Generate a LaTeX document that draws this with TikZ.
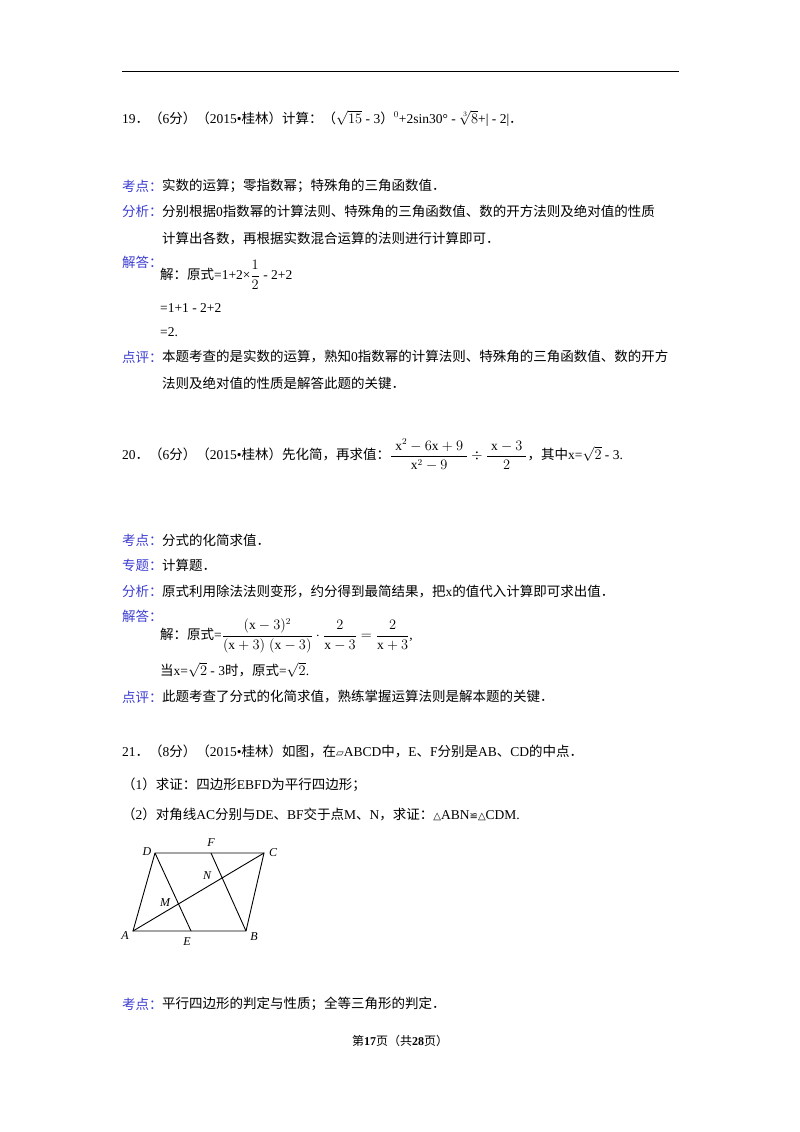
\documentclass[tikz,border=0pt]{standalone}
\usepackage{fontspec}
\usepackage{amsmath}
\setmainfont{Liberation Serif}
\newfontfamily\cjk{Noto Sans CJK SC}
\newfontfamily\dv{DejaVu Sans}
\newcommand\zh[1]{{\cjk #1}}
\newcommand\sy[1]{{\dv\fontsize{10}{12}\selectfont #1}}
\definecolor{lab}{RGB}{60,60,210}
\begin{document}
\begin{tikzpicture}[x=1pt,y=-1pt,
  t/.style={anchor=west,inner sep=0pt,font=\fontsize{13.5}{16}\selectfont},
  lb/.style={t,text=lab},
  pt/.style={inner sep=1pt,font=\itshape\fontsize{12}{14}\selectfont}]
\useasboundingbox (0,0) rectangle (800,1132);
\draw[line width=1pt] (122,72) -- (679,72);
% 19
\node[t] (q19) at (122,118) {19\zh{．（}6\zh{分）（}2015\textbullet\zh{桂林）计算：（}$\sqrt{15}$ - 3\zh{）}$^0$+2sin30° - $\sqrt[3]{8}$+| - 2|\zh{．}};
\node[lb] (k19) at (122,186) {\zh{考点：}};
\node[t] (k19t) at (162,186) {\zh{实数的运算；零指数幂；特殊角的三角函数值．}};
\node[lb] (f19) at (122,211) {\zh{分析：}};
\node[t] (f19a) at (162,211) {\zh{分别根据}0\zh{指数幂的计算法则、特殊角的三角函数值、数的开方法则及绝对值的性质}};
\node[t] (f19b) at (162,238) {\zh{计算出各数，再根据实数混合运算的法则进行计算即可．}};
\node[lb] (j19) at (122,262) {\zh{解答：}};
\node[t] (j19a) at (160,275) {\zh{解：原式}=1+2×$\dfrac{1}{2}$ - 2+2};
\node[t] (j19b) at (160,308) {=1+1 - 2+2};
\node[t] (j19c) at (160,332) {=2.};
\node[lb] (d19) at (122,357) {\zh{点评：}};
\node[t] (d19a) at (162,357) {\zh{本题考查的是实数的运算，熟知}0\zh{指数幂的计算法则、特殊角的三角函数值、数的开方}};
\node[t] (d19b) at (162,383) {\zh{法则及绝对值的性质是解答此题的关键．}};
% 20
\node[t] (q20) at (122,455) {20\zh{．（}6\zh{分）（}2015\textbullet\zh{桂林）先化简，再求值：}$\dfrac{\;\mathrm{x}^2-6\mathrm{x}+9\;}{\mathrm{x}^2-9}\div\dfrac{\;\mathrm{x}-3\;}{2}$\zh{，其中}x=$\sqrt{2}$ - 3.};
\node[lb] (k20) at (122,540) {\zh{考点：}};
\node[t] (k20t) at (162,540) {\zh{分式的化简求值．}};
\node[lb] (z20) at (122,565) {\zh{专题：}};
\node[t] (z20t) at (162,565) {\zh{计算题．}};
\node[lb] (f20) at (122,591) {\zh{分析：}};
\node[t] (f20t) at (162,591) {\zh{原式利用除法法则变形，约分得到最简结果，把}x\zh{的值代入计算即可求出值．}};
\node[lb] (j20) at (122,616) {\zh{解答：}};
\node[t] (j20a) at (160,636) {\zh{解：原式}=$\dfrac{(\mathrm{x}-3)^2}{(\mathrm{x}+3)\;(\mathrm{x}-3)}\cdot\dfrac{2}{\mathrm{x}-3}=\dfrac{2}{\mathrm{x}+3}$,};
\node[t] (j20b) at (160,670) {\zh{当}x=$\sqrt{2}$ - 3\zh{时，原式}=$\sqrt{2}$.};
\node[lb] (d20) at (122,697) {\zh{点评：}};
\node[t] (d20t) at (162,697) {\zh{此题考查了分式的化简求值，熟练掌握运算法则是解本题的关键．}};
% 21
\node[t] (q21) at (122,751) {21\zh{．（}8\zh{分）（}2015\textbullet\zh{桂林）如图，在}\sy{▱}ABCD\zh{中，}E\zh{、}F\zh{分别是}AB\zh{、}CD\zh{的中点．}};
\node[t] (q21a) at (122,785) {\zh{（}1\zh{）求证：四边形}EBFD\zh{为平行四边形；}};
\node[t] (q21b) at (122,814) {\zh{（}2\zh{）对角线}AC\zh{分别与}DE\zh{、}BF\zh{交于点}M\zh{、}N\zh{，求证：}\sy{△}ABN\sy{≌}\sy{△}CDM.};
% figure
\coordinate (A) at (133,931);
\coordinate (B) at (246,931);
\coordinate (C) at (264,853);
\coordinate (D) at (155,853);
\coordinate (E) at (191,931);
\coordinate (F) at (211,853);
\draw[line width=0.9pt] (A) -- (B) -- (C) -- (D) -- cycle;
\draw[line width=0.9pt] (D) -- (E) (F) -- (B) (A) -- (C);
\node[pt] (lA) at (125,936) {A};
\node[pt] (lB) at (254,937) {B};
\node[pt] (lC) at (273,853) {C};
\node[pt] (lD) at (147,852) {D};
\node[pt] (lE) at (187,942) {E};
\node[pt] (lF) at (211,843) {F};
\node[pt] (lM) at (165,903) {M};
\node[pt] (lN) at (207,876) {N};
\node[lb] (k21) at (122,1004) {\zh{考点：}};
\node[t] (k21t) at (162,1004) {\zh{平行四边形的判定与性质；全等三角形的判定．}};
\node[inner sep=0pt,font=\fontsize{12}{14}\selectfont] (ft) at (400,1041) {\zh{第}\textbf{17}\zh{页（共}\textbf{28}\zh{页）}};
\end{tikzpicture}
\end{document}
